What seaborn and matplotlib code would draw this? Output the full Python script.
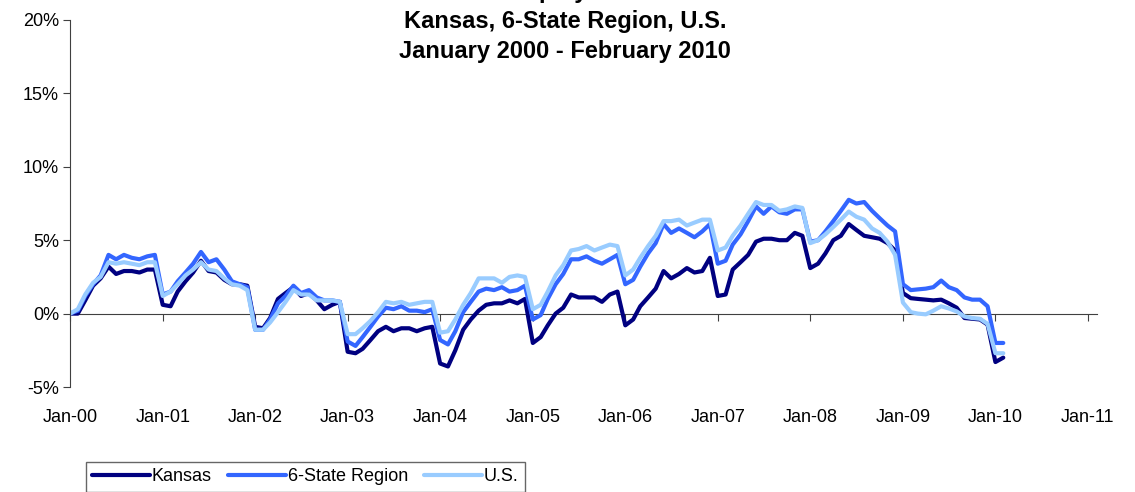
import matplotlib
matplotlib.use("Agg")
import matplotlib.pyplot as plt
import matplotlib.dates as mdates
import numpy as np
import pandas as pd
import seaborn as sns

# monthly cumulative growth, Jan 2000 - Feb 2010 (percent)
kansas = [
    0.0, 0.0, 0.9, 1.9, 2.4, 3.2, 2.7, 2.9, 2.9, 2.8, 3.0, 3.0,
    0.6, 0.5, 1.5, 2.2, 2.8, 3.6, 2.9, 2.8, 2.3, 2.0, 2.0, 1.9,
    -0.9, -1.0, -0.3, 1.0, 1.4, 1.8, 1.2, 1.4, 0.9, 0.3, 0.6, 0.8,
    -2.6, -2.7, -2.4, -1.8, -1.2, -0.9, -1.2, -1.0, -1.0, -1.2, -1.0, -0.9,
    -3.4, -3.6, -2.5, -1.1, -0.4, 0.2, 0.6, 0.7, 0.7, 0.9, 0.7, 1.0,
    -2.0, -1.6, -0.8, 0.0, 0.4, 1.3, 1.1, 1.1, 1.1, 0.8, 1.3, 1.5,
    -0.8, -0.4, 0.5, 1.1, 1.7, 2.9, 2.4, 2.7, 3.1, 2.8, 2.9, 3.8,
    1.2, 1.3, 3.0, 3.5, 4.0, 4.9, 5.1, 5.1, 5.0, 5.0, 5.5, 5.3,
    3.1, 3.4, 4.1, 5.0, 5.3, 6.1, 5.7, 5.3, 5.2, 5.1, 4.8, 4.3,
    1.4, 1.05, 1.0, 0.95, 0.9, 0.95, 0.7, 0.4, -0.3, -0.35, -0.4, -0.75,
    -3.3, -3.0,
]
region = [
    0.0, 0.2, 1.2, 2.0, 2.6, 4.0, 3.7, 4.0, 3.8, 3.7, 3.9, 4.0,
    1.3, 1.5, 2.2, 2.8, 3.4, 4.2, 3.5, 3.7, 3.0, 2.2, 2.0, 1.8,
    -1.1, -1.1, -0.4, 0.7, 1.2, 1.9, 1.4, 1.6, 1.1, 0.9, 0.9, 0.8,
    -1.9, -2.2, -1.6, -0.9, -0.2, 0.4, 0.3, 0.5, 0.2, 0.2, 0.1, 0.3,
    -1.8, -2.1, -1.2, 0.1, 0.8, 1.5, 1.7, 1.6, 1.8, 1.5, 1.6, 1.9,
    -0.4, -0.1, 1.0, 2.0, 2.7, 3.7, 3.7, 3.9, 3.6, 3.4, 3.7, 4.0,
    2.0, 2.3, 3.2, 4.1, 4.8, 6.1, 5.5, 5.8, 5.5, 5.2, 5.6, 6.1,
    3.4, 3.6, 4.7, 5.4, 6.3, 7.3, 6.8, 7.3, 6.9, 6.8, 7.1, 7.1,
    4.9, 5.0, 5.6, 6.3, 7.0, 7.75, 7.5, 7.6, 7.0, 6.5, 6.0, 5.6,
    2.0, 1.6, 1.65, 1.7, 1.8, 2.25, 1.8, 1.6, 1.1, 0.95, 0.95, 0.5,
    -2.0, -2.0,
]
us = [
    0.0, 0.3, 1.3, 2.1, 2.5, 3.5, 3.4, 3.5, 3.4, 3.3, 3.5, 3.5,
    1.2, 1.5, 2.0, 2.6, 3.0, 3.5, 3.0, 2.9, 2.4, 2.0, 1.9, 1.6,
    -1.1, -1.1, -0.6, 0.1, 0.8, 1.6, 1.3, 1.3, 0.9, 0.9, 0.9, 0.8,
    -1.4, -1.4, -1.0, -0.5, 0.1, 0.8, 0.7, 0.8, 0.6, 0.7, 0.8, 0.8,
    -1.3, -1.2, -0.4, 0.6, 1.4, 2.4, 2.4, 2.4, 2.1, 2.5, 2.6, 2.5,
    0.3, 0.6, 1.5, 2.6, 3.3, 4.3, 4.4, 4.6, 4.3, 4.5, 4.7, 4.6,
    2.6, 3.0, 3.8, 4.6, 5.3, 6.3, 6.3, 6.4, 6.0, 6.2, 6.4, 6.4,
    4.3, 4.5, 5.3, 6.0, 6.8, 7.6, 7.4, 7.4, 7.0, 7.1, 7.3, 7.2,
    4.8, 5.0, 5.4, 5.9, 6.4, 6.95, 6.6, 6.4, 5.8, 5.5, 4.9, 4.0,
    0.75, 0.1, 0.0, -0.05, 0.2, 0.5, 0.35, 0.15, -0.2, -0.3, -0.35, -0.7,
    -2.7, -2.7,
]
series_names = ["Kansas", "6-State Region", "U.S."]
series_colors = ["#000080", "#3366FF", "#99CCFF"]
months = pd.date_range("2000-01-01", periods=len(kansas), freq="MS")
year_ticks = pd.date_range("2000-01-01", "2011-01-01", freq="YS")
year_labels = [d.strftime("%b-%y") for d in year_ticks]
y_ticks = [-5, 0, 5, 10, 15, 20]
y_labels = [f"{v}%" for v in y_ticks]
title = "Nonfarm Employment Growth\nKansas, 6-State Region, U.S.\nJanuary 2000 - February 2010"

df = pd.DataFrame({"date": np.tile(months, 3),
                   "growth": kansas + region + us,
                   "series": np.repeat(series_names, len(months))})

sns.set_style("white")
plt.rcParams["font.family"] = ["Liberation Sans", "DejaVu Sans"]
plt.rcParams["text.color"] = "black"
plt.rcParams["xtick.color"] = "black"
plt.rcParams["ytick.color"] = "black"

fig = plt.figure(figsize=(11.35, 4.92), dpi=100)
ax = fig.add_axes([70 / 1135, 105 / 492, 1027 / 1135, 367 / 492])
sns.lineplot(data=df, x="date", y="growth", hue="series", hue_order=series_names,
             palette=series_colors, linewidth=3, ax=ax)
handles, labels = ax.get_legend_handles_labels()
ax.get_legend().remove()

ax.set_ylim(-5, 20)
ax.set_xlim(pd.Timestamp("2000-01-01"), pd.Timestamp("2011-02-06"))
ax.set_yticks(y_ticks, y_labels)
ax.set_xlabel("")
ax.set_ylabel("")
for side in ["top", "right"]:
    ax.spines[side].set_visible(False)
ax.spines["left"].set_color("#404040")
ax.spines["bottom"].set_position(("data", 0))
ax.spines["bottom"].set_color("#404040")
ax.spines["bottom"].set_zorder(1)
ax.set_xticks(year_ticks)
ax.tick_params(axis="x", bottom=True, direction="out", length=5, color="#404040",
               labelbottom=False)
ax.tick_params(axis="y", left=True, direction="out", length=5, color="#404040",
               labelsize=13, pad=3)

# tick labels sit below the plot area, not on the zero line
sec = ax.secondary_xaxis(0.0)
sec.set_xticks(mdates.date2num(year_ticks), year_labels)
sec.tick_params(length=0, labelsize=13, pad=16)
sec.spines["bottom"].set_visible(False)

fig.text(0.498, 1 - 58 / 492, title, ha="center", va="baseline",
         fontsize=17, fontweight="bold", linespacing=1.38)

leg = fig.legend(handles, labels, loc="upper left", bbox_to_anchor=(86 / 1135, 1 - 462 / 492),
                 ncol=3, frameon=True, fancybox=False, fontsize=13, handlelength=3.2,
                 handletextpad=0.1, columnspacing=0.9, borderpad=0.35, borderaxespad=0)
leg.get_frame().set_edgecolor("#404040")
leg.get_frame().set_linewidth(1)
for line in leg.get_lines():
    line.set_linewidth(3)

fig.savefig("out.png", dpi=100)
